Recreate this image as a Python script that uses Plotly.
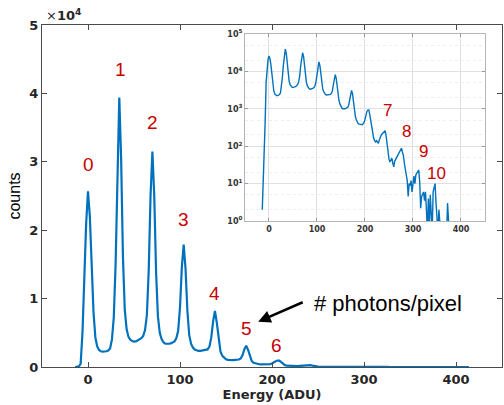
import numpy as np
import plotly.graph_objects as go

# ---------------- data ----------------
energy = list(range(-14, 416, 2))  # ADU, step 2
counts = [
    2, 10, 80, 450, 5000, 13000, 21000,                      # -14 .. -2
    25700, 22000, 15000, 8000, 4300, 3000, 2500, 2300,       # 0 .. 14
    2250, 2250, 2300, 2400, 2700, 4000, 7200, 15000,         # 16 .. 30
    29000, 39400, 30500, 16000, 8300, 5500, 4400, 4000,      # 32 .. 46
    3800, 3700, 3750, 3900, 3950, 4200, 4550, 5400,          # 48 .. 62
    7600, 14100, 25100, 31500, 25100, 13900, 7400, 5000,     # 64 .. 78
    4100, 3600, 3400, 3350, 3400, 3450, 3550, 3750,          # 80 .. 94
    4200, 5300, 8700, 14600, 17900, 14400, 8300, 4700,       # 96 .. 110
    3400, 2850, 2550, 2400, 2350, 2350, 2380, 2400,          # 112 .. 126
    2430, 2570, 2980, 4330, 6690, 8200, 6490, 3880,          # 128 .. 142
    2280, 1620, 1330, 1140, 1040, 1000, 980, 1000,           # 144 .. 158
    1030, 1050, 1100, 1250, 1750, 2610, 3100, 2510,          # 160 .. 174
    1500, 870, 620, 510, 440, 400, 390, 380,                 # 176 .. 190
    370, 375, 400, 430, 520, 700, 850, 920,                  # 192 .. 206
    930, 700, 480, 270, 190, 165, 140, 130,                  # 208 .. 222
    140, 125, 120, 150, 180, 200, 215, 230,                  # 224 .. 238
    255, 260, 190, 120, 60, 45, 38, 42,                      # 240 .. 254
    48, 35, 28, 40, 45, 50, 58, 62,                          # 256 .. 270
    70, 80, 88, 70, 57, 35, 22, 14,                          # 272 .. 286
    12, 4.5, 10, 9, 12, 6, 10, 16,                           # 288 .. 302
    10, 17, 19, 22, 23, 11, 2.2, 4.5,                        # 304 .. 318
    5, 6, 3.5, 6, 2, 0.5, 4, 0.6,                            # 320 .. 334
    5, 2, 0.5, 6, 8, 10, 3, 1.5,                             # 336 .. 350
    0.5, 2, 0.4, 0.4, 0.4, 0.4, 0.4, 0.4,                    # 352 .. 366
    0.4, 0.4, 3, 0.4, 0.4, 0.4, 0.4, 0.4,                    # 368 .. 382
    0.4, 0.4, 0.4, 0.4, 0.4, 0.4, 0.4, 0.4,                  # 384 .. 398
    0.4, 0.4, 0.4, 0.4, 0.4, 0.4, 0.4, 0.4,                  # 400 .. 414
]
assert len(counts) == len(energy), (len(counts), len(energy))

x_ticks = [0, 100, 200, 300, 400]
y_ticks = [0, 10000, 20000, 30000, 40000, 50000]
y_tick_text = ["0", "1", "2", "3", "4", "5"]
log_ticks = [1, 10, 100, 1000, 10000, 100000]
log_tick_text = ["10<sup>0</sup>", "10<sup>1</sup>", "10<sup>2</sup>",
                 "10<sup>3</sup>", "10<sup>4</sup>", "10<sup>5</sup>"]

# photon-number labels (main plot)
peak_labels = ["0", "1", "2", "3", "4", "5", "6"]
peak_label_x = [0, 35, 70, 104, 137, 172, 205]
peak_label_y = [29600, 43500, 35700, 21500, 10800, 5700, 3200]
# photon-number labels (inset)
inset_labels = ["7", "8", "9", "10"]
inset_label_x = [246, 286, 322.5, 349]
inset_label_y = [890, 245, 71, 19]

BLUE = "#0072BD"
RED = "#C80000"
AX = "#4a4a4a"
TICKFONT = dict(family="DejaVu Sans", size=13, color="#262626", weight="bold")

fig = go.Figure()
fig.add_trace(go.Scatter(x=energy, y=counts, mode="lines",
                         line=dict(color=BLUE, width=2.2),
                         xaxis="x", yaxis="y", showlegend=False))
fig.add_trace(go.Scatter(x=energy, y=counts, mode="lines",
                         line=dict(color=BLUE, width=1.4),
                         xaxis="x2", yaxis="y2", showlegend=False))

annotations = []
for t, x, y in zip(peak_labels, peak_label_x, peak_label_y):
    annotations.append(dict(text=t, x=x, y=y, xref="x", yref="y",
                            showarrow=False,
                            font=dict(family="Liberation Sans", size=19, color=RED)))
for t, x, y in zip(inset_labels, inset_label_x, inset_label_y):
    annotations.append(dict(text=t, x=x, y=float(np.log10(y)), xref="x2", yref="y2",
                            showarrow=False,
                            font=dict(family="Liberation Sans", size=17, color=RED)))
# arrow and text
annotations.append(dict(text="", x=185, y=6630, xref="x", yref="y",
                        ax=235, ay=9560, axref="x", ayref="y",
                        showarrow=True, arrowhead=2, arrowsize=1.0,
                        arrowwidth=2.5, arrowcolor="black"))
annotations.append(dict(text="# photons/pixel", x=243.5, y=9330, xref="x", yref="y",
                        xanchor="left", yanchor="middle", showarrow=False,
                        font=dict(family="Liberation Sans", size=22, color="black")))
# exponent label
annotations.append(dict(text="×<b>10<sup>4</sup></b>", x=0.005, y=1.0,
                        xref="paper", yref="paper", xanchor="left", yanchor="bottom",
                        showarrow=False,
                        font=dict(family="DejaVu Sans", size=13, color="#262626")))

fig.update_layout(
    width=504, height=405,
    margin=dict(l=42, r=2, t=25, b=38),
    paper_bgcolor="white", plot_bgcolor="white",
    showlegend=False,
    annotations=annotations,
    xaxis=dict(range=[-50, 450], tickvals=x_ticks, ticks="inside", ticklen=5,
               tickcolor=AX, showline=True, linecolor=AX, linewidth=1,
               mirror="ticks", showgrid=False, zeroline=False,
               tickfont=TICKFONT,
               title=dict(text="Energy (ADU)", standoff=4,
                          font=dict(family="DejaVu Sans", size=13,
                                    color="#262626", weight="bold"))),
    yaxis=dict(range=[0, 50000], tickvals=y_ticks, ticktext=y_tick_text,
               ticks="inside", ticklen=5, tickcolor=AX, showline=True,
               linecolor=AX, linewidth=1, mirror="ticks", showgrid=False,
               zeroline=False, tickfont=TICKFONT,
               title=dict(text="counts", standoff=4,
                          font=dict(family="Liberation Sans", size=16, color="black"))),
    xaxis2=dict(domain=[0.4413, 0.963], anchor="y2", range=[-50, 450],
                tickvals=x_ticks, ticks="inside", ticklen=3, tickcolor="#999",
                showline=True, linecolor="#b5b5b5", linewidth=1, mirror="ticks",
                showgrid=True, gridcolor="#e0e0e0", gridwidth=1, zeroline=False,
                tickfont=dict(family="DejaVu Sans", size=8, color="#333", weight="bold")),
    yaxis2=dict(domain=[0.4269, 0.9737], anchor="x2", type="log", range=[0, 5],
                tickvals=log_ticks, ticktext=log_tick_text, ticks="inside",
                ticklen=3, tickcolor="#999", showline=True, linecolor="#b5b5b5",
                linewidth=1, mirror="ticks", showgrid=True, gridcolor="#e0e0e0",
                zeroline=False,
                minor=dict(showgrid=True, gridcolor="#eeeeee", griddash="dot"),
                tickfont=dict(family="DejaVu Sans", size=8, color="#333", weight="bold")),
)

fig.write_html("out.html")
